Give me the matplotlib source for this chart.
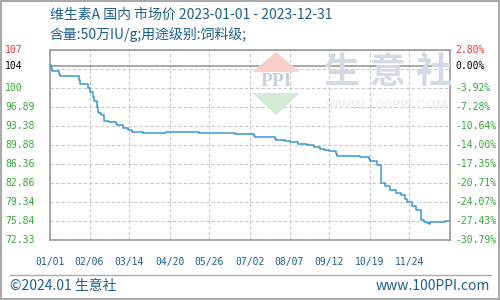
import matplotlib
matplotlib.use("Agg")
import matplotlib.pyplot as plt
import matplotlib.transforms as mtransforms
from matplotlib.patches import Polygon, Rectangle
import pandas as pd

# Precio de mercado vitamina A, escalones
fechas = [
    "2023-01-01", "2023-01-02", "2023-01-03", "2023-01-09", "2023-01-10",
    "2023-01-27", "2023-01-28", "2023-02-05", "2023-02-06", "2023-02-09",
    "2023-02-10", "2023-02-13", "2023-02-14", "2023-02-15", "2023-02-16",
    "2023-02-19", "2023-02-24", "2023-03-02", "2023-03-03", "2023-03-08",
    "2023-03-13", "2023-03-17", "2023-03-27", "2023-04-17", "2023-05-17",
    "2023-06-18", "2023-07-06", "2023-07-07", "2023-07-25", "2023-07-26",
    "2023-08-03", "2023-08-07", "2023-08-15", "2023-08-23", "2023-08-29",
    "2023-09-04", "2023-09-07", "2023-09-12", "2023-09-18", "2023-09-19",
    "2023-10-10", "2023-10-18", "2023-10-19", "2023-10-24", "2023-10-26",
    "2023-10-29", "2023-11-02", "2023-11-06", "2023-11-12", "2023-11-16",
    "2023-11-20", "2023-11-22", "2023-11-26", "2023-11-30", "2023-12-05",
    "2023-12-07", "2023-12-10", "2023-12-12", "2023-12-13", "2023-12-26",
    "2023-12-31",
]
precios = [
    104.6, 104.0, 103.5, 102.9, 102.55,
    101.8, 101.08, 100.34, 99.6, 98.8,
    97.99, 96.94, 96.02, 95.71, 95.35,
    94.24, 94.06, 93.69, 93.5, 93.06,
    92.64, 92.2, 92.03, 92.2, 92.03,
    91.85, 91.55, 91.29, 91.0, 90.74,
    90.55, 90.37, 90.06, 89.81, 89.45,
    89.19, 89.0, 88.71, 88.2, 87.78,
    87.6, 87.29, 87.0, 86.86, 86.23,
    82.8, 82.3, 81.56, 81.01, 80.64,
    79.84, 79.35, 78.61, 77.87, 76.02,
    75.71, 75.47, 75.23, 75.65, 75.84,
    75.84,
]

precio_base = 104.5
niveles_grid = [72.33, 75.84, 79.34, 82.86, 86.36, 89.88, 93.38, 96.89, 100.40, 103.90, 107.41]
niveles_etiqueta = [107.41, 104.5, 100.40, 96.89, 93.38, 89.88, 86.36, 82.86, 79.34, 75.84, 72.33]
etiquetas_izq = ["107", "104", "100", "96.89", "93.38", "89.88", "86.36", "82.86", "79.34", "75.84", "72.33"]
etiquetas_der = ["2.80%", "0.00%", "-3.92%", "-7.28%", "-10.64%", "-14.00%", "-17.35%",
                 "-20.71%", "-24.07%", "-27.43%", "-30.79%"]
ticks_x = ["2023-01-01", "2023-02-06", "2023-03-14", "2023-04-20", "2023-05-26",
           "2023-07-02", "2023-08-07", "2023-09-12", "2023-10-19", "2023-11-24"]
etiquetas_x = ["01/01", "02/06", "03/14", "04/20", "05/26", "07/02", "08/07", "09/12", "10/19", "11/24"]

titulo = "维生素A 国内 市场价 2023-01-01 - 2023-12-31"
subtitulo = "含量:50万IU/g;用途级别:饲料级;"

CJK = ["Noto Sans CJK SC", "DejaVu Sans"]
MONO = "DejaVu Sans Mono"
AZUL = "#1d5f8e"
VERDE = "#33a933"
W, H = 500, 300


def px(x, y):
    return x / W, 1 - y / H


fig = plt.figure(figsize=(5, 3), dpi=100)
fig.patch.set_facecolor("white")

# marca de agua
fig.patches.append(Polygon([px(252, 72), px(300, 72), px(276, 52)], closed=True,
                           transform=fig.transFigure, facecolor="#f6cfc8", edgecolor="none", zorder=0))
fig.patches.append(Polygon([px(252, 93), px(300, 93), px(276, 115)], closed=True,
                           transform=fig.transFigure, facecolor="#d3ecd6", edgecolor="none", zorder=0))
fig.text(*px(276, 82), "PPI", fontsize=14, color="#c6cfe3", ha="center", va="center",
         family="Liberation Serif", fontweight="bold", zorder=0)
for i, ch in enumerate("生意社"):
    fig.text(*px(342 + 46 * i, 72), ch, fontsize=26, color="#d3d9e5", ha="center", va="center",
             family=CJK, fontweight="bold", zorder=0)
fig.text(*px(387, 106), "WWW.100PPI.COM", fontsize=9.5, color="#ebebeb", ha="center", va="center", zorder=0)

ax = fig.add_axes([0.1, 0.2, 0.8, 190 / H])
ax.patch.set_alpha(0)

x = pd.to_datetime(fechas)
ax.plot(x, precios, drawstyle="steps-post", color="#3a97d4", linewidth=1.1, zorder=3)

for nivel in niveles_grid:
    ax.axhline(nivel, color="#c8c8c8", linestyle=(0, (3, 2)), linewidth=0.8, zorder=1)
for t in ticks_x[1:]:
    ax.axvline(pd.Timestamp(t), color="#c8c8c8", linestyle=(0, (3, 2)), linewidth=0.8, zorder=1)
ax.axhline(precio_base, color="#999999", linewidth=1.2, zorder=2)

ax.set_xlim(pd.Timestamp("2023-01-01"), pd.Timestamp("2023-12-31"))
ax.set_ylim(niveles_grid[0], niveles_grid[-1])
ax.set_xticks(pd.to_datetime(ticks_x))
ax.set_xticklabels(etiquetas_x, family=MONO, fontsize=7, color=AZUL)
ax.tick_params(axis="x", length=0, pad=12)
ax.set_yticks([])
for sp in ax.spines.values():
    sp.set_color("#999999")
    sp.set_linewidth(1.2)

trans = mtransforms.blended_transform_factory(fig.transFigure, ax.transData)
for i, (nivel, izq, der) in enumerate(zip(niveles_etiqueta, etiquetas_izq, etiquetas_der)):
    color = "#ee3333" if i == 0 else ("black" if i == 1 else VERDE)
    ax.text(5 / W, nivel, izq, transform=trans, family=MONO, fontsize=7, color=color,
            ha="left", va="center")
    ax.text(455 / W, nivel, der, transform=trans, family=MONO, fontsize=7, color=color,
            ha="left", va="center")

fig.text(*px(50, 15), titulo, family=CJK, fontsize=10, color=AZUL, ha="left", va="center")
fig.text(*px(50, 34), subtitulo, family=CJK, fontsize=10, color=AZUL, ha="left", va="center")

# pie
fig.add_artist(plt.Line2D([10 / W, 491 / W], [1 - 275 / H, 1 - 275 / H], transform=fig.transFigure,
                          color="#aaaaaa", linewidth=1))
fig.text(*px(10, 286), "©2024.01 生意社", family=CJK, fontsize=10, color=AZUL, ha="left", va="center")
fig.text(*px(490, 286), "www.100PPI.com", family=CJK, fontsize=10, color=AZUL, ha="right", va="center")
fig.patches.append(Rectangle((0.001, 0.002), 0.997, 0.995, transform=fig.transFigure,
                             fill=False, edgecolor="#999999", linewidth=1.2))

fig.savefig("out.png", dpi=100)
